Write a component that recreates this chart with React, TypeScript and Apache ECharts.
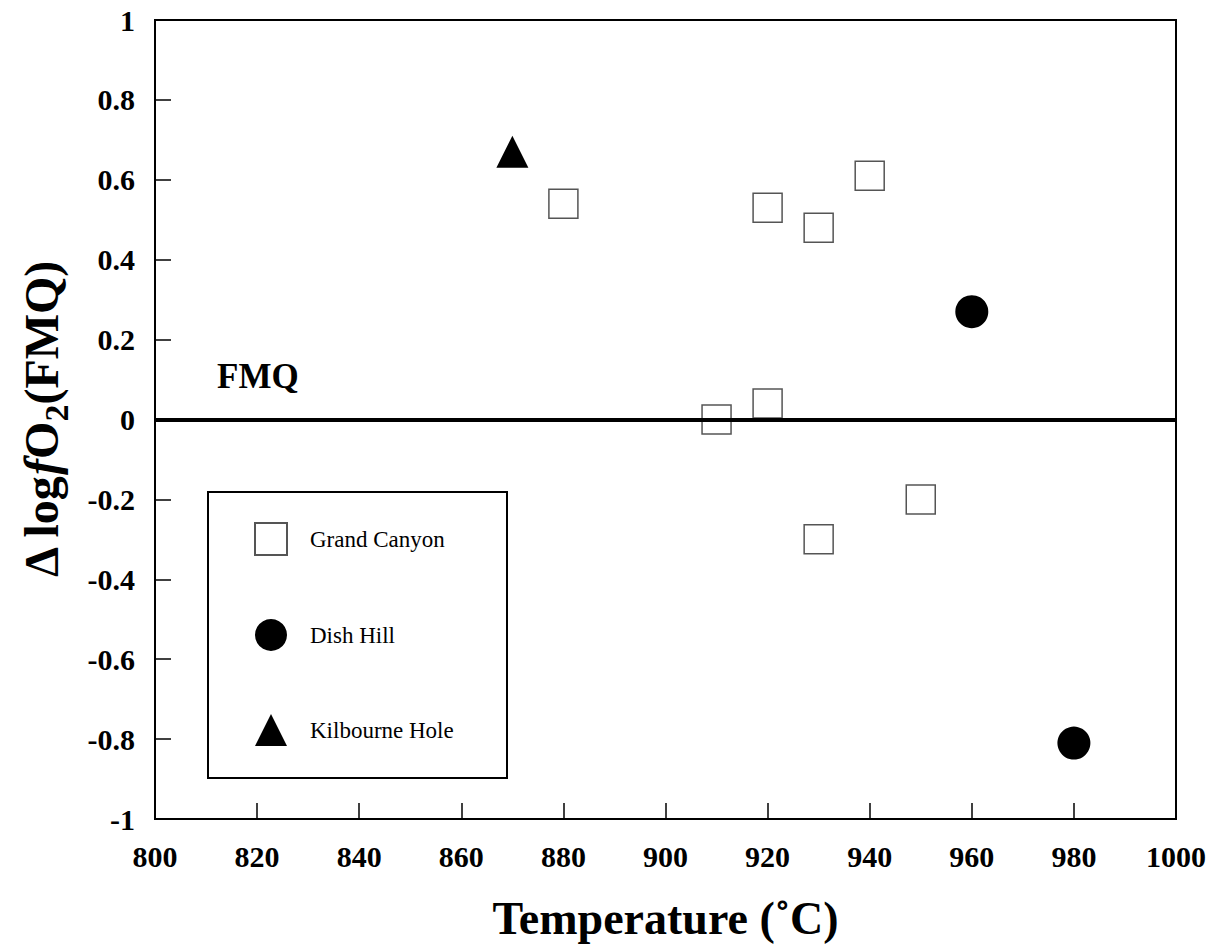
import React, { useEffect, useRef } from "react";
import * as echarts from "echarts";

const grandCanyonT = [880, 920, 930, 940, 910, 920, 930, 950];
const grandCanyonO2 = [0.54, 0.53, 0.48, 0.61, 0.0, 0.04, -0.3, -0.2];
const dishHillT = [960, 980];
const dishHillO2 = [0.27, -0.81];
const kilbourneT = [870];
const kilbourneO2 = [0.67];
const fmqLevel = 0;

const FONT = "'Liberation Serif', 'Times New Roman', serif";

export default function App() {
  const ref = useRef<HTMLDivElement>(null);
  useEffect(() => {
    if (!ref.current) return;
    const chart = echarts.init(ref.current, undefined, { renderer: "svg" });
    const zip = (xs: number[], ys: number[]) => xs.map((x, i) => [x, ys[i]]);
    chart.setOption({
      animation: false,
      backgroundColor: "#fff",
      grid: {
        left: 155,
        top: 20,
        right: 44,
        bottom: 127,
        show: true,
        borderColor: "#000",
        borderWidth: 2,
      },
      xAxis: {
        type: "value",
        min: 800,
        max: 1000,
        interval: 20,
        name: "Temperature (˚C)",
        nameLocation: "middle",
        nameGap: 76,
        nameTextStyle: { fontFamily: FONT, fontWeight: "bold", fontSize: 46, color: "#000" },
        axisLine: { show: true, onZero: false, lineStyle: { color: "#000", width: 2 } },
        axisTick: { show: true, inside: true, length: 16, lineStyle: { color: "#000", width: 1.5 } },
        axisLabel: {
          fontFamily: FONT,
          fontWeight: "bold",
          fontSize: 30,
          color: "#000",
          margin: 22,
          formatter: (v: number) => String(v),
        },
        splitLine: { show: false },
      },
      yAxis: {
        type: "value",
        min: -1,
        max: 1,
        interval: 0.2,
        name: "{a|Δ log}{f|f}{a|O}{s|2}{a|(FMQ)}",
        nameLocation: "middle",
        nameRotate: 90,
        nameGap: 82,
        nameTextStyle: {
          color: "#000",
          rich: {
            a: { fontFamily: FONT, fontWeight: "bold", fontSize: 48, lineHeight: 64, color: "#000" },
            f: { fontFamily: FONT, fontWeight: "bold", fontStyle: "italic", fontSize: 48, lineHeight: 64, color: "#000" },
            s: { fontFamily: FONT, fontWeight: "bold", fontSize: 34, lineHeight: 22, verticalAlign: "bottom", color: "#000" },
          },
        },
        axisLine: { show: true, onZero: false, lineStyle: { color: "#000", width: 2 } },
        axisTick: { show: true, inside: true, length: 16, lineStyle: { color: "#000", width: 1.5 } },
        axisLabel: {
          fontFamily: FONT,
          fontWeight: "bold",
          fontSize: 30,
          color: "#000",
          margin: 20,
          formatter: (v: number) => String(Math.round(v * 10) / 10),
        },
        splitLine: { show: false },
      },
      legend: {
        orient: "vertical",
        left: 254,
        top: 522,
        padding: 0,
        itemWidth: 32,
        itemHeight: 32,
        itemGap: 63,
        textStyle: { fontFamily: FONT, fontSize: 23, color: "#000", padding: [0, 0, 0, 18] },
        data: ["Grand Canyon", "Dish Hill", "Kilbourne Hole"],
      },
      graphic: [
        {
          type: "rect",
          left: 207,
          top: 491,
          z: -1,
          shape: { width: 299, height: 286 },
          style: { fill: "#fff", stroke: "#000", lineWidth: 2 },
        },
      ],
      series: [
        {
          name: "Grand Canyon",
          type: "scatter",
          symbol: "rect",
          symbolSize: 29,
          itemStyle: { color: "#fff", borderColor: "#555", borderWidth: 1.5, opacity: 1 },
          data: zip(grandCanyonT, grandCanyonO2),
          markLine: {
            silent: true,
            symbol: "none",
            z: 10,
            lineStyle: { color: "#000", width: 4, type: "solid" },
            label: {
              show: true,
              position: "insideStartTop",
              formatter: "FMQ",
              fontFamily: FONT,
              fontWeight: "bold",
              fontSize: 35,
              color: "#000",
              distance: [62, 26],
            },
            data: [{ yAxis: fmqLevel }],
          },
        },
        {
          name: "Dish Hill",
          type: "scatter",
          symbol: "circle",
          symbolSize: 33,
          itemStyle: { color: "#000", opacity: 1 },
          data: zip(dishHillT, dishHillO2),
        },
        {
          name: "Kilbourne Hole",
          type: "scatter",
          symbol: "triangle",
          symbolSize: 32,
          itemStyle: { color: "#000", opacity: 1 },
          data: zip(kilbourneT, kilbourneO2),
        },
      ],
    });
    return () => chart.dispose();
  }, []);
  return (
    <div
      ref={ref}
      style={{ position: "fixed", left: 0, top: 0, width: 1220, height: 946, background: "#fff" }}
    />
  );
}
